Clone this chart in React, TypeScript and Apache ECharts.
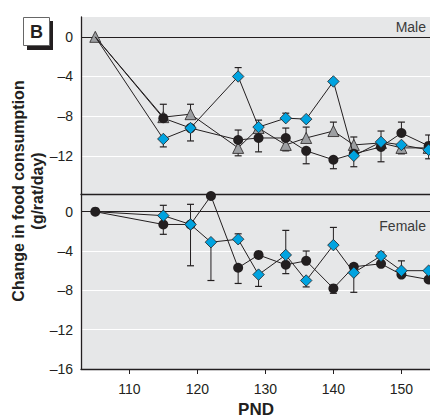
import React, { useEffect, useRef } from "react";
import * as echarts from "echarts";

const malePnd = [105, 115, 119, 126, 129, 133, 136, 140, 143, 147, 150, 154];
const maleBlack = [0, -8.2, -9.2, -10.4, -10.2, -10.2, -11.5, -12.4, -11.8, -11.1, -9.7, -11.0];
const maleGray = [0, -8.1, -7.8, -11.2, -9.2, -10.9, -10.2, -9.5, -10.9, -10.7, -11.2, -11.2];
const maleBlue = [0, -10.3, -9.2, -4.0, -9.1, -8.2, -8.3, -4.5, -12.0, -10.6, -10.9, -11.4];

const maleBlackErr = [[115, -6.8], [119, -10.5], [126, -9.4], [129, -11.6], [133, -9.2], [136, -12.8], [140, -13.3], [147, -12.6], [150, -8.6], [154, -9.9]];
const maleGrayErr = [[119, -6.8], [126, -12.0], [133, -11.5], [136, -9.1], [140, -8.6], [143, -10.1], [150, -11.8]];
const maleBlueErr = [[115, -11.1], [126, -3.1], [129, -8.4], [133, -7.7], [143, -13.1], [147, -9.5], [154, -12.3]];

const femalePnd = [105, 115, 119, 122, 126, 129, 133, 136, 140, 143, 147, 150, 154];
const femaleBlack = [0, -1.3, -1.3, 1.6, -5.7, -4.4, -5.4, -5.0, -7.8, -5.6, -5.3, -6.4, -6.9];
const femaleBlue = [0, -0.4, -1.3, -3.1, -2.8, -6.4, -4.4, -7.0, -3.4, -6.2, -4.5, -6.0, -6.0];

const femaleBlackErr = [[115, -2.3], [119, -5.5], [126, -7.3], [133, -6.3], [136, -4.0], [140, -8.3], [143, -5.3]];
const femaleBlueErr = [[115, 0.65], [119, 0.75], [122, -7.0], [126, -2.25], [129, -7.6], [133, -1.9], [136, -7.65], [140, -1.6], [143, -8.2], [147, -4.1], [150, -5.0]];

const xTicks = [110, 120, 130, 140, 150];
const maleYTicks = [0, -4, -8, -12];
const femaleYTicks = [0, -4, -8, -12, -16];
const gridValues = [-4, -8, -12];

const FONT = "'Liberation Sans Narrow', 'Liberation Sans', Arial, sans-serif";
const INK = "#231f20";
const BLUE = "#00a3e0";
const GRAY = "#9d9fa2";

function errData(pnd: number[], vals: number[], err: number[][]) {
  return err.map(([x, tip]) => [x, vals[pnd.indexOf(x)], tip]);
}

function errSeries(data: number[][], idx: number) {
  return {
    type: "custom",
    xAxisIndex: idx,
    yAxisIndex: idx,
    z: 1,
    silent: true,
    data,
    encode: { x: 0, y: [1, 2] },
    renderItem: (_p: any, api: any) => {
      const x = api.value(0);
      const p0 = api.coord([x, api.value(1)]);
      const p1 = api.coord([x, api.value(2)]);
      const w = 3.5;
      return {
        type: "group",
        children: [
          { type: "line", shape: { x1: p0[0], y1: p0[1], x2: p1[0], y2: p1[1] }, style: { stroke: INK, lineWidth: 1 } },
          { type: "line", shape: { x1: p1[0] - w, y1: p1[1], x2: p1[0] + w, y2: p1[1] }, style: { stroke: INK, lineWidth: 1.2 } },
        ],
      };
    },
  };
}

function pts(pnd: number[], vals: number[], hideFirst = false) {
  return pnd.map((x, i) => (hideFirst && i === 0 ? { value: [x, vals[i]], symbol: "none" } : [x, vals[i]]));
}

function lineSeries(data: any[], idx: number, kind: "black" | "gray" | "blue", z: number, withGrid = false) {
  const style: any =
    kind === "black"
      ? { symbol: "circle", symbolSize: 10, itemStyle: { color: INK } }
      : kind === "gray"
      ? { symbol: "triangle", symbolSize: 11, itemStyle: { color: GRAY, borderColor: INK, borderWidth: 0.8 } }
      : { symbol: "diamond", symbolSize: 11.5, itemStyle: { color: BLUE, borderColor: INK, borderWidth: 0.8 } };
  const s: any = {
    type: "line",
    xAxisIndex: idx,
    yAxisIndex: idx,
    data,
    z,
    silent: true,
    lineStyle: { color: INK, width: 1 },
    ...style,
  };
  if (withGrid) {
    s.markLine = {
      silent: true,
      symbol: "none",
      label: { show: false },
      z: 0,
      data: [
        ...gridValues.map((v) => ({ yAxis: v, lineStyle: { color: "#ffffff", width: 1.2, type: "solid" } })),
        { yAxis: 0, lineStyle: { color: INK, width: 1, type: "solid" } },
      ],
    };
  }
  return s;
}

function fmt(v: number) {
  return v < 0 ? "\u2013" + Math.abs(v) : String(v);
}

export default function App() {
  const ref = useRef<HTMLDivElement>(null);
  useEffect(() => {
    if (!ref.current) return;
    const chart = echarts.init(ref.current, undefined, { renderer: "svg" });
    const xBase = {
      type: "value",
      min: 102.9,
      max: 154.2,
      splitLine: { show: false },
      axisLine: { show: true, onZero: false, lineStyle: { color: INK, width: 1.3 } },
    };
    chart.setOption({
      animation: false,
      backgroundColor: "#ffffff",
      grid: [
        { left: 81, right: 0, top: 17, height: 177, show: true, backgroundColor: "#e6e7e8", borderWidth: 0 },
        { left: 81, right: 0, top: 194, height: 175, show: true, backgroundColor: "#e6e7e8", borderWidth: 0 },
      ],
      xAxis: [
        { ...xBase, gridIndex: 0, axisTick: { show: false }, axisLabel: { show: false } },
        {
          ...xBase,
          gridIndex: 1,
          axisTick: { show: true, customValues: xTicks, length: 5, lineStyle: { color: INK } },
          axisLabel: { show: true, customValues: xTicks, color: INK, fontFamily: FONT, fontSize: 14, margin: 13 },
        },
      ],
      yAxis: [
        {
          type: "value",
          gridIndex: 0,
          min: -15.85,
          max: 2,
          splitLine: { show: false },
          axisTick: { show: false },
          axisLine: { show: true, onZero: false, lineStyle: { color: INK, width: 1.3 } },
          axisLabel: { customValues: maleYTicks, formatter: fmt, color: INK, fontFamily: FONT, fontSize: 14, margin: 8 },
        },
        {
          type: "value",
          gridIndex: 1,
          min: -16,
          max: 1.8,
          splitLine: { show: false },
          axisTick: { show: false },
          axisLine: { show: true, onZero: false, lineStyle: { color: INK, width: 1.3 } },
          axisLabel: { customValues: femaleYTicks, formatter: fmt, color: INK, fontFamily: FONT, fontSize: 14, margin: 8 },
        },
      ],
      series: [
        errSeries(errData(malePnd, maleBlack, maleBlackErr), 0),
        errSeries(errData(malePnd, maleGray, maleGrayErr), 0),
        errSeries(errData(malePnd, maleBlue, maleBlueErr), 0),
        lineSeries(pts(malePnd, maleGray), 0, "gray", 2, true),
        lineSeries(pts(malePnd, maleBlack, true), 0, "black", 3),
        lineSeries(pts(malePnd, maleBlue, true), 0, "blue", 4),
        errSeries(errData(femalePnd, femaleBlack, femaleBlackErr), 1),
        errSeries(errData(femalePnd, femaleBlue, femaleBlueErr), 1),
        lineSeries(pts(femalePnd, femaleBlack), 1, "black", 2, true),
        lineSeries(pts(femalePnd, femaleBlue, true), 1, "blue", 3),
      ],
      graphic: [
        { type: "rect", shape: { x: 27, y: 21, width: 26, height: 29 }, style: { fill: INK }, z: 10 },
        { type: "rect", shape: { x: 23.5, y: 17.5, width: 26, height: 28 }, style: { fill: "#fff", stroke: "#666", lineWidth: 1 }, z: 11 },
        {
          type: "text",
          x: 36.5,
          y: 31.5,
          z: 12,
          style: { text: "B", fill: INK, font: "bold 18px Arial, 'Liberation Sans', sans-serif", align: "center", verticalAlign: "middle" },
        },
        {
          type: "text",
          x: 18,
          y: 191,
          rotation: Math.PI / 2,
          style: { text: "Change in food consumption", fill: INK, font: `bold 16px ${FONT}`, align: "center", verticalAlign: "middle" },
        },
        {
          type: "text",
          x: 37,
          y: 191,
          rotation: Math.PI / 2,
          style: { text: "(g/rat/day)", fill: INK, font: `bold 16px ${FONT}`, align: "center", verticalAlign: "middle" },
        },
        {
          type: "text",
          x: 256,
          y: 409.5,
          style: { text: "PND", fill: INK, font: `bold 17px ${FONT}`, align: "center", verticalAlign: "middle" },
        },
        {
          type: "text",
          x: 426,
          y: 27,
          z: 20,
          style: { text: "Male", fill: "#3a3a3a", font: `14px ${FONT}`, align: "right", verticalAlign: "middle" },
        },
        {
          type: "text",
          x: 426,
          y: 226,
          z: 20,
          style: { text: "Female", fill: "#3a3a3a", font: `14px ${FONT}`, align: "right", verticalAlign: "middle" },
        },
      ],
    });
    return () => chart.dispose();
  }, []);
  return <div ref={ref} style={{ width: 430, height: 419, position: "fixed", left: 0, top: 0 }} />;
}
